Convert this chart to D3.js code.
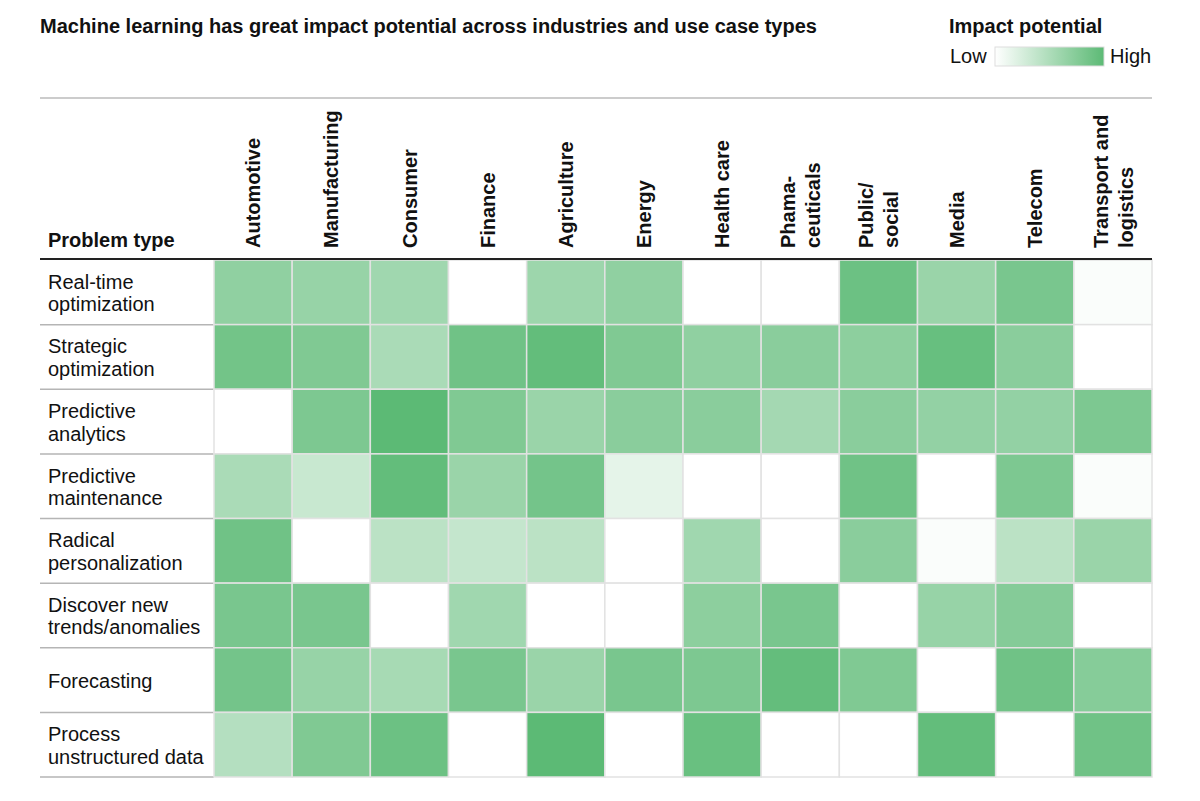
<!DOCTYPE html>
<html>
<head>
<meta charset="utf-8">
<script src="https://cdn.jsdelivr.net/npm/d3@7"></script>
<style>
  body { margin: 0; background: #fff; }
  svg { font-family: 'Liberation Sans', Arial, sans-serif; }
</style>
</head>
<body>
<div id="chart"></div>
<script>
// industries (columns), each label may have two lines
const industries = [
  ['Automotive'], ['Manufacturing'], ['Consumer'], ['Finance'], ['Agriculture'],
  ['Energy'], ['Health care'], ['Phama-', 'ceuticals'], ['Public/', 'social'],
  ['Media'], ['Telecom'], ['Transport and', 'logistics']
];

// problem types (rows)
const problems = [
  ['Real-time', 'optimization'],
  ['Strategic', 'optimization'],
  ['Predictive', 'analytics'],
  ['Predictive', 'maintenance'],
  ['Radical', 'personalization'],
  ['Discover new', 'trends/anomalies'],
  ['Forecasting'],
  ['Process', 'unstructured data']
];

// impact potential, 0 = low, 1 = high, one row per problem type
const impact = [
  [0.68, 0.64, 0.58, 0.00, 0.60, 0.68, 0.00, 0.00, 0.90, 0.62, 0.82, 0.03],
  [0.86, 0.78, 0.52, 0.88, 0.96, 0.78, 0.68, 0.72, 0.70, 0.93, 0.72, 0.00],
  [0.00, 0.80, 1.00, 0.78, 0.62, 0.72, 0.72, 0.56, 0.72, 0.66, 0.66, 0.80],
  [0.52, 0.34, 0.96, 0.62, 0.85, 0.16, 0.00, 0.00, 0.88, 0.00, 0.80, 0.03],
  [0.88, 0.00, 0.42, 0.36, 0.42, 0.00, 0.58, 0.00, 0.72, 0.03, 0.42, 0.62],
  [0.82, 0.82, 0.00, 0.58, 0.00, 0.00, 0.70, 0.82, 0.00, 0.64, 0.75, 0.00],
  [0.85, 0.64, 0.54, 0.82, 0.62, 0.82, 0.80, 0.95, 0.78, 0.00, 0.88, 0.74],
  [0.46, 0.78, 0.90, 0.00, 1.00, 0.00, 0.92, 0.00, 0.00, 0.96, 0.00, 0.88]
];

const width = 1200;
const height = 801;
const lowColor = '#ffffff';
const highColor = '#5cba75';
const fontSize = 20;

const svg = d3.select('#chart')
  .append('svg')
  .attr('width', width)
  .attr('height', height);

// 标题
svg.append('text')
  .attr('x', 40)
  .attr('y', 33)
  .attr('font-size', fontSize)
  .attr('font-weight', 'bold')
  .attr('fill', '#111')
  .text('Machine learning has great impact potential across industries and use case types');

// 图例
const legend = svg.append('g');
legend.append('text')
  .attr('x', 949).attr('y', 33)
  .attr('font-size', fontSize).attr('font-weight', 'bold').attr('fill', '#111')
  .text('Impact potential');

const grad = svg.append('defs').append('linearGradient').attr('id', 'legend-grad');
grad.append('stop').attr('offset', '0%').attr('stop-color', lowColor);
grad.append('stop').attr('offset', '100%').attr('stop-color', highColor);

legend.append('text')
  .attr('x', 950).attr('y', 63)
  .attr('font-size', fontSize).attr('fill', '#111')
  .text('Low');
legend.append('rect')
  .attr('x', 995).attr('y', 47)
  .attr('width', 109).attr('height', 19)
  .attr('fill', 'url(#legend-grad)')
  .attr('stroke', '#ddd');
legend.append('text')
  .attr('x', 1110).attr('y', 63)
  .attr('font-size', fontSize).attr('fill', '#111')
  .text('High');

// 上分隔线
svg.append('line')
  .attr('x1', 40).attr('x2', 1152)
  .attr('y1', 98).attr('y2', 98)
  .attr('stroke', '#bbb').attr('stroke-width', 1.5);

const gridLeft = 214;
const gridRight = 1152;
const gridTop = 260;
const gridBottom = 777;

const x = d3.scaleBand()
  .domain(d3.range(industries.length))
  .range([gridLeft, gridRight]);

const y = d3.scaleBand()
  .domain(d3.range(problems.length))
  .range([gridTop, gridBottom]);

const color = d3.scaleLinear()
  .domain([0, 1])
  .range([lowColor, highColor]);

// 列标题
const colLabels = svg.append('g')
  .selectAll('g')
  .data(industries)
  .enter()
  .append('g')
  .attr('transform', (d, i) => `translate(${x(i) + x.bandwidth() / 2},248) rotate(-90)`);

colLabels.each(function (lines) {
  const g = d3.select(this);
  const offset = lines.length === 1 ? [0] : [-12.5, 12.5];
  lines.forEach((line, k) => {
    g.append('text')
      .attr('x', 0)
      .attr('y', offset[k])
      .attr('dy', '0.36em')
      .attr('font-size', fontSize)
      .attr('font-weight', 'bold')
      .attr('fill', '#111')
      .text(line);
  });
});

svg.append('text')
  .attr('x', 48).attr('y', 247)
  .attr('font-size', fontSize).attr('font-weight', 'bold').attr('fill', '#111')
  .text('Problem type');

// 行标题
const rowLabels = svg.append('g')
  .selectAll('text')
  .data(problems)
  .enter()
  .append('text')
  .attr('font-size', fontSize)
  .attr('fill', '#111');

rowLabels.each(function (lines, i) {
  const t = d3.select(this);
  const cy = y(i) + y.bandwidth() / 2;
  const offset = lines.length === 1 ? [7.5] : [-3.5, 19];
  lines.forEach((line, k) => {
    t.append('tspan')
      .attr('x', 48)
      .attr('y', cy + offset[k])
      .text(line);
  });
});

// 行分隔线
svg.append('g')
  .selectAll('line')
  .data(d3.range(1, problems.length + 1))
  .enter()
  .append('line')
  .attr('x1', 40).attr('x2', gridLeft)
  .attr('y1', d => y(d - 1) + y.bandwidth())
  .attr('y2', d => y(d - 1) + y.bandwidth())
  .attr('stroke', '#b5b5b5').attr('stroke-width', 1.5);

// 热力格子
const cells = [];
impact.forEach((row, r) => row.forEach((v, c) => cells.push({ r, c, v })));

svg.append('g')
  .selectAll('rect')
  .data(cells)
  .enter()
  .append('rect')
  .attr('x', d => x(d.c))
  .attr('y', d => y(d.r))
  .attr('width', x.bandwidth())
  .attr('height', y.bandwidth())
  .attr('fill', d => color(d.v))
  .attr('stroke', '#e2e2e2')
  .attr('stroke-width', 1.5);

// 表头下粗线
svg.append('line')
  .attr('x1', 40).attr('x2', gridRight)
  .attr('y1', 259).attr('y2', 259)
  .attr('stroke', '#222').attr('stroke-width', 2);
</script>
</body>
</html>
